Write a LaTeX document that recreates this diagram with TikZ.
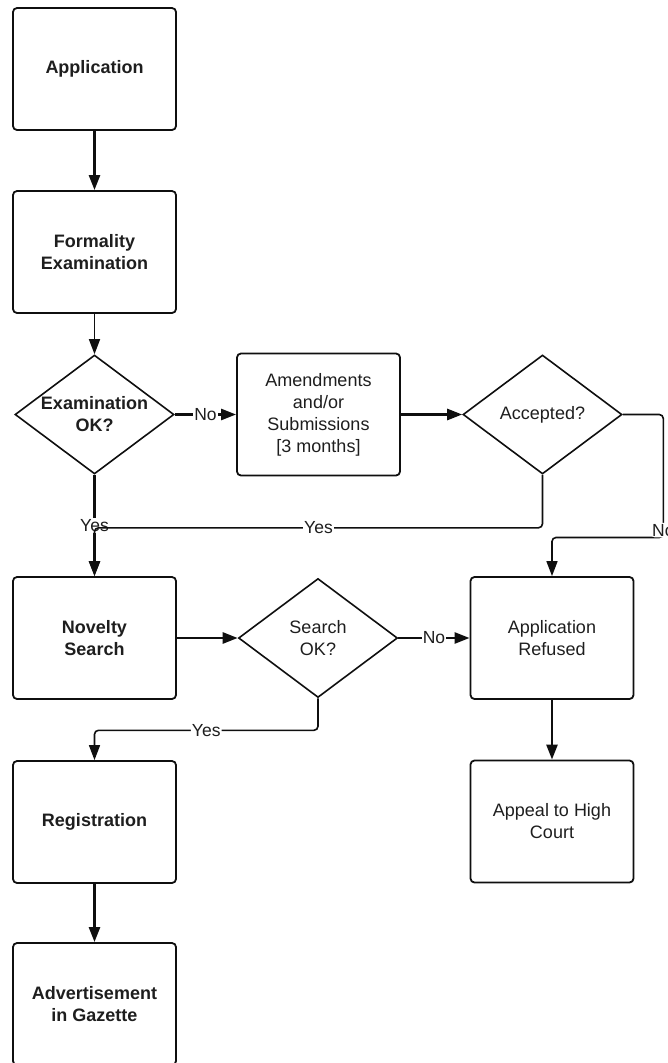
\documentclass[tikz,border=0pt]{standalone}
\usepackage{fontspec}
\setmainfont{Liberation Sans}
\usetikzlibrary{shapes.geometric,arrows.meta}
\definecolor{txt}{RGB}{30,30,30}
\definecolor{ln}{RGB}{15,15,15}
\begin{document}
\begin{tikzpicture}[x=1pt,y=-1pt,
  box/.style={draw=ln, line width=1.8pt, rounded corners=4pt, minimum width=163pt, minimum height=122pt, align=center, inner sep=0pt, font=\fontsize{18}{22}\selectfont, text=txt},
  bbox/.style={box, font=\fontsize{18}{22}\selectfont\bfseries},
  dia/.style={draw=ln, diamond, line width=1.6pt, shape aspect=1.34, minimum width=159pt, minimum height=119pt, inner sep=0pt, align=center, font=\fontsize{18}{22}\selectfont, text=txt},
  bdia/.style={dia, font=\fontsize{18}{22}\selectfont\bfseries},
  arr/.style={-{Triangle[length=15pt,width=11pt]}},
  thk/.style={draw=ln, line width=2.6pt},
  thn/.style={draw=ln, line width=1.6pt, rounded corners=4pt},
  lbl/.style={fill=white, inner sep=1.2pt, font=\fontsize{17.5}{20}\selectfont, text=txt}
]
\useasboundingbox (0,0) rectangle (667,1063);
\node[bbox] (app) at (94.5,69) {Application};
\node[bbox] (form) at (94.5,252) {Formality\\Examination};
\node[bdia] (exam) at (94.5,414.5) {Examination\\OK?};
\node[box] (amend) at (318.5,414.5) {Amendments\\and/or\\Submissions\\{[3 months]}};
\node[dia] (acc) at (542.5,414.5) {Accepted?};
\node[bbox] (nov) at (94.5,638) {Novelty\\Search};
\node[dia] (srch) at (318,638) {Search\\OK?};
\node[box] (ref) at (552,638) {Application\\Refused};
\node[bbox] (reg) at (94.5,822) {Registration};
\node[box] (appeal) at (552,821.5) {Appeal to High\\Court};
\node[bbox] (adv) at (94.5,1004) {Advertisement\\in Gazette};

\draw[thk,arr] (app) -- (form);
\draw[thn,arr] (form) -- (exam);
\draw[thk,arr] (exam) -- node[lbl]{No} (amend);
\draw[thk,arr] (amend) -- (acc);
\draw[thk,arr] (exam) -- node[lbl]{Yes} (nov);
\draw[thn,arr] (acc.south) -- ++(0,53) -| node[lbl,pos=0.25]{Yes} (nov.north);
\draw[thn,arr] (acc.east) -- ++(40.5,0) -- node[lbl,pos=0.94]{No} ++(0,123) -| (ref.north);
\draw[thk,arr] (nov) -- (srch);
\draw[thk,arr] (srch) -- node[lbl]{No} (ref);
\draw[thn,arr] (srch.south) -- ++(0,32) -| node[lbl,pos=0.25]{Yes} (reg.north);
\draw[thk,arr] (ref) -- (appeal);
\draw[thk,arr] (reg) -- (adv);
\end{tikzpicture}
\end{document}
